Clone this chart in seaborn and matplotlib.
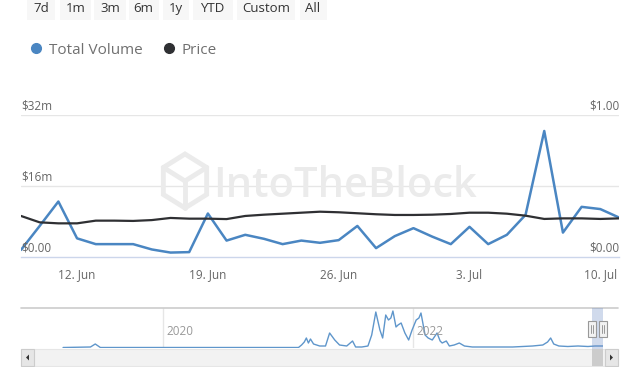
import matplotlib
matplotlib.use("Agg")
import numpy as np
import pandas as pd
import matplotlib.pyplot as plt
import matplotlib.dates as mdates
import seaborn as sns
from matplotlib.patches import Rectangle, Polygon
from matplotlib.lines import Line2D
from matplotlib.transforms import blended_transform_factory, ScaledTranslation

# ---------------- data ----------------
start_date = "2023-06-09"
end_date = "2023-07-11"
volume_m = [1.6, 7.0, 12.5, 4.2, 2.9, 2.9, 2.9, 1.7, 1.0, 1.1,
            9.8, 3.7, 5.0, 4.1, 2.9, 3.7, 3.2, 3.8, 7.0, 2.0,
            4.7, 6.5, 4.6, 2.9, 6.8, 2.9, 5.0, 9.5, 28.4, 5.5,
            11.3, 10.8, 8.9]
price = [0.289, 0.244, 0.237, 0.237, 0.256, 0.256, 0.254, 0.260, 0.275, 0.270,
         0.270, 0.267, 0.289, 0.298, 0.305, 0.312, 0.319, 0.315, 0.308, 0.301,
         0.296, 0.296, 0.298, 0.303, 0.312, 0.312, 0.305, 0.291, 0.268, 0.272,
         0.272, 0.268, 0.272]
x_ticks = ["2023-06-12", "2023-06-19", "2023-06-26", "2023-07-03", "2023-07-10"]
left_ticks = [0, 16, 32]
left_labels = ["$0.00", "$16m", "$32m"]
right_ticks = [0, 1]
right_labels = ["$0.00", "$1.00"]
series_names = ["Total Volume", "Price"]
buttons = ["7d", "1m", "3m", "6m", "1y", "YTD", "Custom", "All"]

nav_dates = ["2019-03-16", "2019-06-04", "2019-06-18", "2019-07-03", "2019-11-27",
             "2020-04-22", "2020-09-16", "2021-02-01", "2021-02-10", "2021-02-18",
             "2021-02-24", "2021-03-02", "2021-03-08", "2021-03-17", "2021-04-04",
             "2021-04-21", "2021-05-03", "2021-05-18", "2021-06-01", "2021-06-22",
             "2021-07-09", "2021-07-18", "2021-08-05", "2021-08-23", "2021-09-03",
             "2021-09-15", "2021-09-27", "2021-10-05", "2021-10-14", "2021-10-22",
             "2021-10-29", "2021-11-04", "2021-11-13", "2021-11-19", "2021-11-28",
             "2021-12-09", "2021-12-20", "2021-12-30", "2022-01-11", "2022-01-19",
             "2022-01-25", "2022-02-06", "2022-02-15", "2022-02-27", "2022-03-07",
             "2022-03-13", "2022-03-22", "2022-03-28", "2022-04-09", "2022-04-18",
             "2022-05-02", "2022-05-17", "2022-06-01", "2022-06-24", "2022-08-22",
             "2022-10-20", "2022-11-18", "2022-12-17", "2023-01-16", "2023-01-30",
             "2023-02-08", "2023-02-17", "2023-03-04", "2023-03-30", "2023-04-29",
             "2023-05-28", "2023-06-18", "2023-07-11"]
nav_values = [2.5, 5, 20, 2.5, 2.5,
              2.5, 2.5, 2.5, 15, 30,
              50, 25, 45, 20, 10,
              10, 75, 40, 15, 10,
              35, 5, 5, 10, 65,
              180, 90, 50, 165, 140,
              150, 185, 105, 115, 125,
              75, 40, 90, 140, 150,
              175, 65, 50, 40, 60,
              75, 35, 25, 35, 10,
              15, 25, 10, 5, 5,
              5, 7.5, 10, 15, 30,
              50, 20, 10, 7.5, 10,
              7.5, 10, 10]
nav_start = "2018-11-13"
nav_year_lines = ["2020-01-01", "2022-01-01"]

df = pd.DataFrame({"date": pd.date_range(start_date, end_date, freq="D"),
                   "volume": volume_m, "price": price})
nav_df = pd.DataFrame({"date": pd.to_datetime(nav_dates), "value": nav_values})

# ---------------- style ----------------
sns.set_theme(style="white")
plt.rcParams["font.family"] = ["Open Sans", "DejaVu Sans"]

W, H = 640, 367
fig = plt.figure(figsize=(W / 100, H / 100), dpi=100)
fig.patch.set_facecolor("white")

def fx(px):
    return px / W

def fy(py):
    return 1 - py / H

BLUE = "#4a86c2"
DARK = "#2f3033"
GRID = "#e6e6e6"
LABEL = "#666666"

# ---------------- range buttons ----------------
btn_centers = [41, 75.5, 110, 143.5, 176, 212.5, 266, 313]
btn_widths = [28, 31, 33, 30, 26, 40, 58, 27]
for lab, cx, bw in zip(buttons, btn_centers, btn_widths):
    fig.patches.append(Rectangle((fx(cx - bw / 2), fy(20)), fx(bw), 25 / H,
                                 transform=fig.transFigure, fc="#f7f7f7", ec="none", zorder=0))
    fig.text(fx(cx), fy(8.5), lab, ha="center", va="center", fontsize=9.5, color="#333333")

# ---------------- watermark ----------------
fig.text(fx(213), fy(186), "IntoTheBlock", fontsize=30, color="#ebebeb",
         ha="left", va="center", fontweight="semibold", zorder=0)
ang = np.deg2rad(np.arange(6) * 60 + 90)
hx = fx(185 + 25 * np.cos(ang))
hy = fy(181 - 27 * np.sin(ang))
fig.patches.append(Polygon(np.column_stack([hx, hy]), closed=True, fill=False,
                           ec="#ebebeb", lw=3.5, transform=fig.transFigure, zorder=0))
for k in (1, 3, 5):
    fig.lines.append(Line2D([fx(185), hx[k]], [fy(181), hy[k]], color="#ebebeb",
                            lw=3.5, transform=fig.transFigure, zorder=0))

# ---------------- main chart ----------------
ax = fig.add_axes([fx(21), fy(257), fx(598), 142 / H])
ax.patch.set_alpha(0)
sns.lineplot(data=df, x="date", y="volume", ax=ax, color=BLUE, lw=1.8, zorder=3)
ax2 = ax.twinx()
sns.lineplot(data=df, x="date", y="price", ax=ax2, color=DARK, lw=1.6, zorder=4)

ax.set_xlim(df["date"].iloc[0], df["date"].iloc[-1])
ax.set_ylim(left_ticks[0], left_ticks[-1])
ax2.set_ylim(right_ticks[0], right_ticks[-1])

for a in (ax, ax2):
    a.set_xlabel("")
    a.set_ylabel("")
    for s in ("top", "left", "right"):
        a.spines[s].set_visible(False)
    a.set_yticks([])
ax2.spines["bottom"].set_visible(False)
ax.spines["bottom"].set_color("#ccd6eb")
ax.spines["bottom"].set_linewidth(1)

for v in left_ticks[1:]:
    ax.axhline(v, color=GRID, lw=1, zorder=1)

xt = pd.to_datetime(x_ticks)
ax.set_xticks(xt)
ax.set_xticklabels([f"{d.day}. {d.strftime('%b')}" for d in xt])
ax.tick_params(axis="x", direction="out", length=5, width=1, color="#ccd6eb",
               labelcolor=LABEL, labelsize=8.5, pad=3)

off = ScaledTranslation(0, 2 / 72, fig.dpi_scale_trans)
tl = blended_transform_factory(ax.transAxes, ax.transData) + off
for v, lab in zip(left_ticks, left_labels):
    ax.text(0.0, v, lab, transform=tl, ha="left", va="bottom", fontsize=8.5, color=LABEL)
tr = blended_transform_factory(ax2.transAxes, ax2.transData) + off
for v, lab in zip(right_ticks, right_labels):
    ax2.text(1.0, v, lab, transform=tr, ha="right", va="bottom", fontsize=8.5, color=LABEL)

# ---------------- legend ----------------
handles = [Line2D([], [], marker="o", ls="", color=BLUE, markersize=7),
           Line2D([], [], marker="o", ls="", color=DARK, markersize=7)]
fig.legend(handles, series_names, loc="center left", bbox_to_anchor=(fx(21), fy(50)),
           ncol=2, frameon=False, fontsize=11, labelcolor="#707070",
           handletextpad=0.35, columnspacing=1.2, handlelength=1.0, borderpad=0)

# ---------------- navigator ----------------
nav = fig.add_axes([fx(21), fy(348), fx(582), 40 / H])
nav.patch.set_alpha(0)
sns.lineplot(data=nav_df, x="date", y="value", ax=nav, color="#5f96cb", lw=1.0, zorder=3)
nav.set_xlim(pd.Timestamp(nav_start), df["date"].iloc[-1])
nav.set_ylim(0, 200)
nav.set_xlabel("")
nav.set_ylabel("")
nav.set_xticks([])
nav.set_yticks([])
for s in nav.spines.values():
    s.set_visible(False)
for d in pd.to_datetime(nav_year_lines):
    nav.axvline(d, color="#e6e6e6", lw=1, zorder=1)
    nav.annotate(str(d.year), (d, 0), xytext=(3, 7), textcoords="offset points",
                 ha="left", va="bottom", fontsize=8.5, color="#999999")

# top outline
fig.lines.append(Line2D([fx(21), fx(618)], [fy(308), fy(308)], color="#cccccc",
                        lw=1.2, transform=fig.transFigure))
# scrollbar
fig.patches.append(Rectangle((fx(21), fy(366)), fx(597), 17 / H, transform=fig.transFigure,
                             fc="#f2f2f2", ec="#e6e6e6", lw=0.8, zorder=1))
for bx in (21, 605):
    fig.patches.append(Rectangle((fx(bx), fy(366)), fx(13), 17 / H, transform=fig.transFigure,
                                 fc="#e6e6e6", ec="#cccccc", lw=0.8, zorder=2))
fig.patches.append(Polygon([[fx(26), fy(357.5)], [fx(29), fy(354.5)], [fx(29), fy(360.5)]],
                           closed=True, fc="#333333", ec="none", transform=fig.transFigure, zorder=3))
fig.patches.append(Polygon([[fx(613), fy(357.5)], [fx(610), fy(354.5)], [fx(610), fy(360.5)]],
                           closed=True, fc="#333333", ec="none", transform=fig.transFigure, zorder=3))

# selected range
d0, d1 = df["date"].iloc[0], df["date"].iloc[-1]
x0 = fig.transFigure.inverted().transform(nav.transData.transform((mdates.date2num(d0), 0)))[0]
x1 = fig.transFigure.inverted().transform(nav.transData.transform((mdates.date2num(d1), 0)))[0]
fig.patches.append(Rectangle((x0, fy(366)), x1 - x0, 58 / H, transform=fig.transFigure,
                             fc="#6685c2", alpha=0.3, ec="none", zorder=4))
fig.patches.append(Rectangle((x0, fy(366)), x1 - x0, 17 / H, transform=fig.transFigure,
                             fc="#cccccc", ec="none", zorder=4))
for xc in (x0, x1):
    fig.patches.append(Rectangle((xc - fx(3.8), fy(337)), fx(7.6), 16 / H,
                                 transform=fig.transFigure, fc="#f2f2f2", ec="#999999",
                                 lw=0.8, zorder=5))
    for dx in (-1.3, 1.3):
        fig.lines.append(Line2D([xc + fx(dx), xc + fx(dx)], [fy(333), fy(325)],
                                color="#999999", lw=0.7, transform=fig.transFigure, zorder=6))

fig.savefig("out.png", dpi=100)
